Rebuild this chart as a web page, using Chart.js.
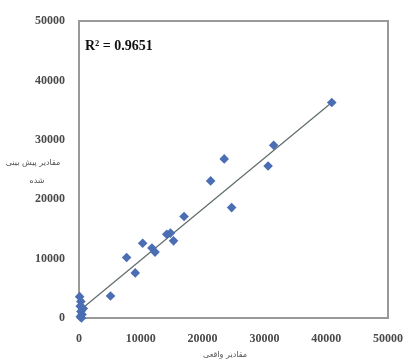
<!DOCTYPE html>
<html lang="fa">
<head>
<meta charset="UTF-8">
<title>Observed vs predicted</title>
<script src="https://cdn.jsdelivr.net/npm/chart.js"></script>
<style>
  html, body { margin: 0; padding: 0; background: #fff; }
  #wrap { width: 417px; height: 360px; position: relative; }
</style>
</head>
<body>
<div id="wrap"><canvas id="scatterChart"></canvas></div>
<script>
// observed (x) and predicted (y) values
const actualVals = [40900, 31500, 23500, 30600, 21300, 24700, 17000, 14200, 14800, 15300,
                    10300, 11800, 12300, 7700, 9100, 5100,
                    100, 300, 200, 700, 300, 500, 200, 400];
const predictedVals = [36300, 29100, 26800, 25600, 23100, 18600, 17100, 14100, 14300, 13000,
                       12600, 11800, 11100, 10200, 7600, 3700,
                       3600, 2800, 2000, 1600, 1100, 600, 200, 0];
// linear trend end points
const trendX = [500, 40900];
const trendY = [1600, 36300];
const axisTicks = [0, 10000, 20000, 30000, 40000, 50000];
const rSquaredLabel = 'R² = 0.9651';
const xTitle = 'مقادیر واقعی';
const yTitle = ['مقادیر پیش بینی', 'شده'];

const points = actualVals.map((v, i) => ({ x: v, y: predictedVals[i] }));
const trend = trendX.map((v, i) => ({ x: v, y: trendY[i] }));

const tickFont = { family: '"Liberation Serif", "Times New Roman", serif', size: 12, weight: 'bold' };

// grey frame round the plot area, under the markers
const frame = {
  id: 'frame',
  beforeDatasetsDraw(chart) {
    const { ctx } = chart;
    const l = Math.round(chart.scales.x.getPixelForValue(0));
    const r = Math.round(chart.scales.x.getPixelForValue(50000));
    const t = Math.round(chart.scales.y.getPixelForValue(50000));
    const b = Math.round(chart.scales.y.getPixelForValue(0));
    ctx.save();
    ctx.fillStyle = '#999999';
    ctx.fillRect(l - 1, t - 1, r - l + 2, 2);
    ctx.fillRect(l - 1, b - 1, r - l + 2, 2);
    ctx.fillRect(l - 1, t - 1, 2, b - t + 2);
    ctx.fillRect(r - 1, t - 1, 2, b - t + 2);
    ctx.restore();
  }
};

// R² note and the two axis titles
const notes = {
  id: 'notes',
  afterDraw(chart) {
    const { ctx } = chart;
    ctx.save();
    ctx.fillStyle = '#111';
    ctx.font = 'bold 14px "Liberation Serif", serif';
    ctx.textBaseline = 'middle';
    ctx.fillText(rSquaredLabel, 85, 46);

    ctx.fillStyle = '#505050';
    ctx.font = '8px "DejaVu Sans", sans-serif';
    ctx.textAlign = 'center';
    ctx.fillText(yTitle[0], 33, 163);
    ctx.fillText(yTitle[1], 37, 181);
    ctx.fillText(xTitle, 225, 355);
    ctx.restore();
  }
};

new Chart(document.getElementById('scatterChart'), {
  type: 'scatter',
  data: {
    datasets: [
      {
        label: 'trend',
        type: 'line',
        data: trend,
        borderColor: '#5f6b6b',
        borderWidth: 1.2,
        pointRadius: 0,
        fill: false,
        order: 2
      },
      {
        label: 'values',
        data: points,
        pointStyle: 'rectRot',
        pointRadius: 4.8,
        backgroundColor: '#4a6db3',
        borderColor: '#4a6db3',
        borderWidth: 0,
        clip: false,
        order: 1
      }
    ]
  },
  options: {
    responsive: true,
    maintainAspectRatio: false,
    animation: false,
    layout: { padding: { top: 19, right: 14, left: 0, bottom: 0 } },
    plugins: { legend: { display: false }, tooltip: { enabled: false } },
    scales: {
      x: {
        type: 'linear',
        min: 0, max: 50000,
        afterBuildTicks: s => { s.ticks = axisTicks.map(v => ({ value: v })); },
        afterFit: s => { s.height = 42; },
        grid: { display: false, drawTicks: false },
        border: { display: false },
        ticks: { font: tickFont, color: '#4a4a4a', padding: 14, maxRotation: 0, callback: v => v }
      },
      y: {
        type: 'linear',
        min: 0, max: 50000,
        afterBuildTicks: s => { s.ticks = axisTicks.map(v => ({ value: v })); },
        afterFit: s => { s.width = 79; },
        grid: { display: false, drawTicks: false },
        border: { display: false },
        ticks: { font: tickFont, color: '#4a4a4a', padding: 14, callback: v => v }
      }
    }
  },
  plugins: [frame, notes]
});
</script>
</body>
</html>
